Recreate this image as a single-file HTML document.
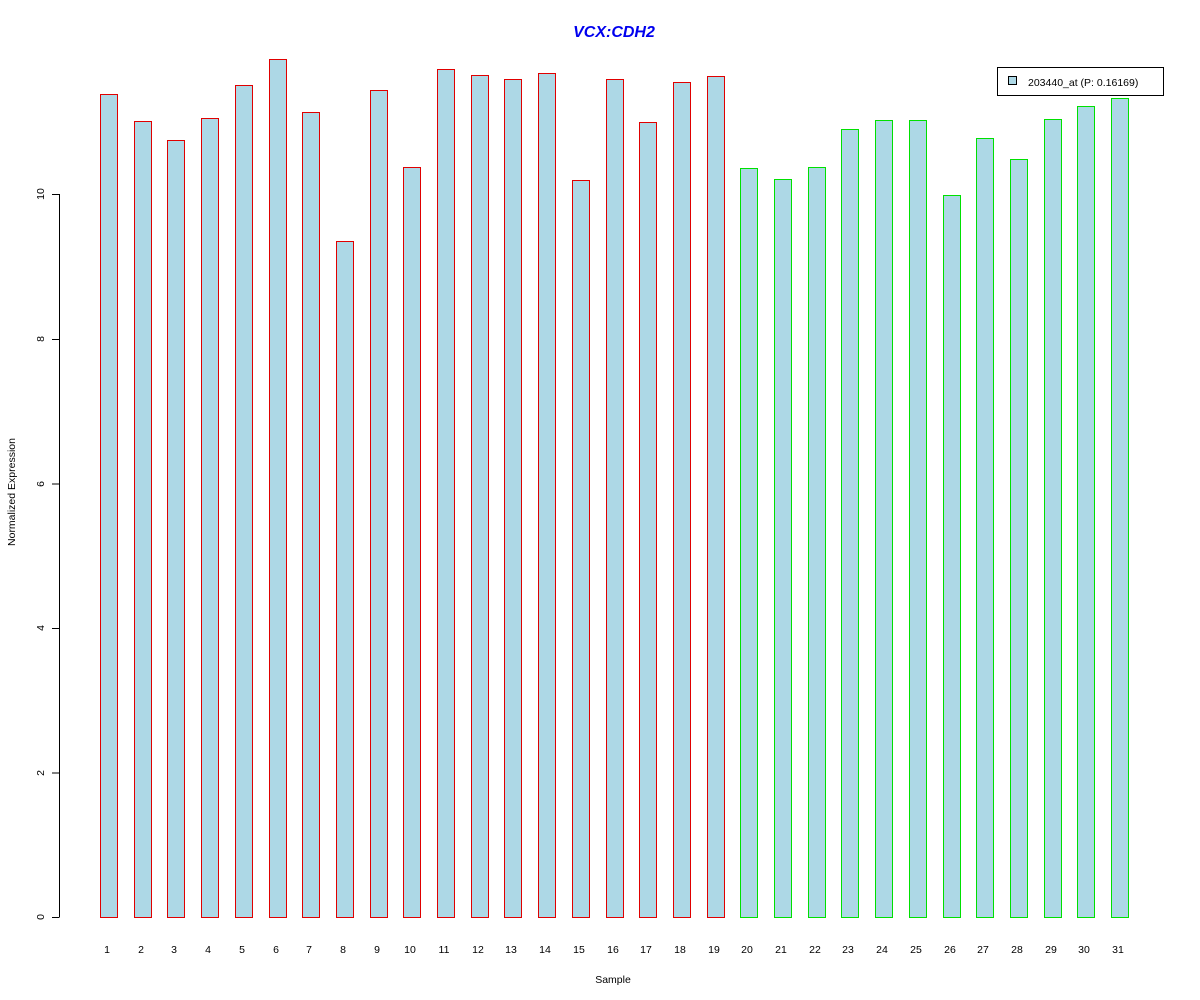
<!DOCTYPE html>
<html><head><meta charset="utf-8"><style>body{margin:0;background:#fff}svg{display:block}text{font-family:"Liberation Sans",Arial,sans-serif}</style></head>
<body>
<svg width="1200" height="1000" viewBox="0 0 1200 1000" xmlns="http://www.w3.org/2000/svg">
<rect width="1200" height="1000" fill="#fff"/>
<text x="614" y="37" text-anchor="middle" font-size="16" font-weight="bold" font-style="italic" fill="#0000ee">VCX:CDH2</text>
<g id="bars" shape-rendering="crispEdges"></g>
<g stroke="#000" stroke-width="1" fill="none" shape-rendering="crispEdges">
<line x1="59.5" y1="194" x2="59.5" y2="917"/>
<line x1="52" y1="917.5" x2="59.5" y2="917.5"/>
<line x1="52" y1="773" x2="59.5" y2="773"/>
<line x1="52" y1="628.5" x2="59.5" y2="628.5"/>
<line x1="52" y1="484" x2="59.5" y2="484"/>
<line x1="52" y1="339.5" x2="59.5" y2="339.5"/>
<line x1="52" y1="194.5" x2="59.5" y2="194.5"/>
</g>
<g font-size="10.5" fill="#000" text-anchor="middle">
<text transform="translate(44,917) rotate(-90)">0</text>
<text transform="translate(44,773) rotate(-90)">2</text>
<text transform="translate(44,628) rotate(-90)">4</text>
<text transform="translate(44,484) rotate(-90)">6</text>
<text transform="translate(44,339) rotate(-90)">8</text>
<text transform="translate(44,194) rotate(-90)">10</text>
<text transform="translate(15,492) rotate(-90)">Normalized Expression</text>
<text x="613" y="983">Sample</text>
</g>
<g id="labels" font-size="10.5" fill="#000" text-anchor="middle"></g>
<rect x="997.5" y="67.5" width="166" height="28" fill="#fff" stroke="#000" shape-rendering="crispEdges"/>
<rect x="1008.5" y="76.5" width="8" height="8" fill="#add8e6" stroke="#000" shape-rendering="crispEdges"/>
<text x="1028" y="86" font-size="10.5" fill="#000">203440_at (P: 0.16169)</text>
</svg>
<script>
var tops=[94,121,140,118,85,59,112,241,90,167,69,75,79,73,180,79,122,82,76,168,179,167,129,120,120,195,138,159,119,106,98];
var g=document.getElementById('bars'),l=document.getElementById('labels'),ns="http://www.w3.org/2000/svg";
function R(x,y,w,h,f){var r=document.createElementNS(ns,'rect');r.setAttribute('x',x);r.setAttribute('y',y);r.setAttribute('width',w);r.setAttribute('height',h);r.setAttribute('fill',f);g.appendChild(r);}
tops.forEach(function(t,i){var x=Math.round(100+i*33.7);
R(x,t,18,918-t,i<19?'#e00000':'#00e000');R(x+1,t+1,16,916-t,'#add8e6');
var tx=document.createElementNS(ns,'text');tx.setAttribute('x',x+7);tx.setAttribute('y',953);tx.textContent=i+1;l.appendChild(tx);});
</script>
</body></html>
